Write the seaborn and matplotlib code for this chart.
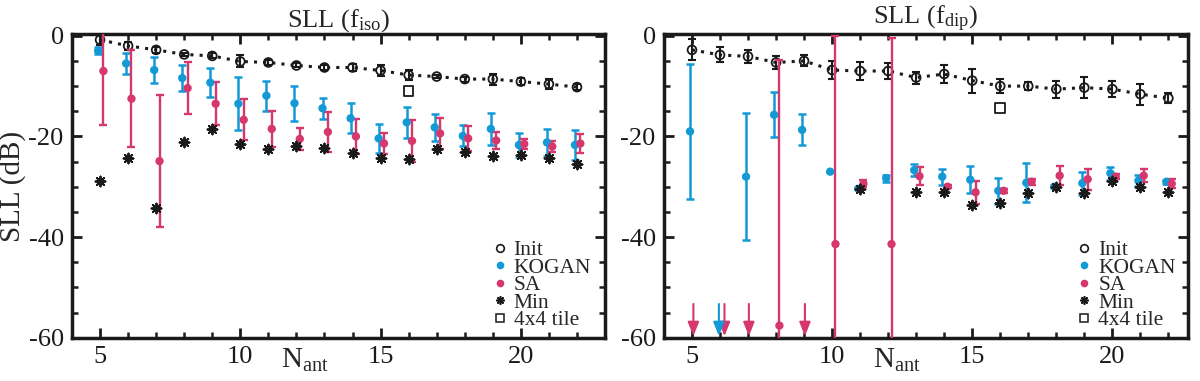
import numpy as np
import matplotlib
matplotlib.use("Agg")
import matplotlib.pyplot as plt
import seaborn as sns
from matplotlib.lines import Line2D
from matplotlib.ticker import MultipleLocator
from matplotlib import transforms

sns.set_theme(style="ticks")
plt.rcParams["font.family"] = ["Liberation Serif", "DejaVu Serif"]
plt.rcParams["mathtext.fontset"] = "custom"
plt.rcParams["mathtext.rm"] = "Liberation Serif"
plt.rcParams["mathtext.it"] = "Liberation Serif:italic"

nan = np.nan
KOGAN_C = "#1399d6"
SA_C = "#d6386d"

n_ant = [5, 6, 7, 8, 9, 10, 11, 12, 13, 14, 15, 16, 17, 18, 19, 20, 21, 22]

# left panel: isotropic element
init_iso = [-0.8, -2.0, -2.8, -3.7, -4.0, -5.1, -5.3, -5.9, -6.3, -6.3, -6.9, -7.8, -8.1, -8.6, -8.6, -9.1, -9.6, -10.2]
init_iso_err = [1.0, 0.8, 0.6, 0.3, 0.5, 1.2, 0.5, 0.4, 0.4, 0.6, 1.1, 1.0, 0.3, 0.5, 1.1, 0.7, 1.0, 0.6]
kogan_iso = [-3.0, -5.5, -6.8, -8.4, -9.3, -13.5, -11.9, -13.4, -14.4, -16.4, -20.4, -17.2, -18.2, -19.9, -18.5, -21.7, -21.2, -21.7]
kogan_iso_err = [0.7, 2.0, 2.5, 2.5, 2.9, 5.3, 3.0, 3.5, 2.1, 3.0, 2.8, 3.1, 2.7, 2.1, 3.2, 2.4, 2.7, 2.9]
sa_iso = [-7.0, -12.5, -24.9, -10.4, -13.5, -16.7, -18.5, -20.5, -19.1, -20.0, -21.4, -20.9, -19.4, -20.4, -20.8, -21.5, -22.0, -21.4]
sa_iso_err = [10.7, 9.7, 13.1, 5.2, 4.3, 4.1, 3.6, 2.1, 4.0, 3.4, 2.1, 4.1, 3.0, 2.5, 1.7, 1.0, 1.1, 1.8]
min_iso = [-28.8, -24.3, -34.2, -21.2, -18.6, -21.5, -22.5, -22.0, -22.3, -23.2, -24.3, -24.5, -22.5, -23.0, -23.8, -23.7, -24.3, -25.5]

# right panel: dipole element
init_dip = [-2.8, -3.8, -4.1, -5.3, -5.0, -6.8, -7.0, -7.0, -8.3, -7.6, -8.9, -10.0, -10.0, -10.6, -10.3, -10.6, -11.6, -12.4]
init_dip_err = [2.1, 1.5, 1.3, 1.2, 1.1, 1.7, 1.7, 1.5, 1.2, 1.8, 2.4, 1.4, 0.8, 1.7, 2.1, 1.6, 2.1, 1.0]
kogan_dip = [-19.0, nan, -28.0, -15.7, -18.7, -27.0, -30.4, -28.3, -26.7, -28.0, -28.6, -30.8, -29.2, -30.0, -29.3, -27.3, -28.8, -29.0]
kogan_dip_err = [13.4, nan, 12.6, 4.5, 3.1, 0.0, 0.0, 0.7, 1.2, 1.6, 2.7, 2.6, 3.9, 0.3, 2.3, 1.3, 1.1, 0.4]
sa_dip = [nan, nan, nan, -57.6, nan, -41.4, -29.4, -41.4, -27.9, -30.0, -31.1, -30.8, -29.0, -27.8, -28.5, -28.0, -27.8, -29.4]
sa_dip_err = [nan, nan, nan, 52.7, nan, 41.4, 0.7, 40.9, 1.8, 0.3, 2.3, 0.4, 0.6, 1.9, 2.1, 0.5, 1.3, 0.9]
min_dip = [nan, nan, nan, nan, nan, nan, -30.5, nan, -31.1, -31.1, -33.6, -33.2, -31.2, -30.1, -31.3, -28.9, -30.0, -31.1]

# values below the plotted range (arrows)
sa_arrow_x = [5.05, 6.16, 7.03, 9.03]
kogan_arrow_x = [5.96]

tile_x = [16]
tile_iso = [-11.0]
tile_dip = [-14.3]

fig = plt.figure(figsize=(12, 3.81), dpi=100)
ax1 = fig.add_axes([0.060, 0.1137, 0.4442, 0.7963])
ax2 = fig.add_axes([0.5533, 0.1137, 0.4367, 0.7963])


def panel(ax, init, init_err, kogan, kogan_err, sa, sa_err, mins, tile, title, xmax,
          sa_arrows=(), kogan_arrows=()):
    x = np.array(n_ant, dtype=float)
    xk = x - 0.07
    xs = x + 0.12

    # Init: dotted line + open circles with error bars
    sns.lineplot(x=x, y=init, color="k", lw=2.2, ax=ax, errorbar=None, sort=False, zorder=2)
    ax.lines[-1].set_linestyle((0, (1, 2.0)))
    ax.errorbar(x, init, yerr=init_err, fmt="none", ecolor="k", elinewidth=1.5,
                capsize=2.6, capthick=1.5, zorder=3)
    sns.scatterplot(x=x, y=init, marker="o", s=40, facecolor="none", edgecolor="k",
                    linewidth=1.3, ax=ax, zorder=4)

    # KOGAN
    ax.errorbar(xk, kogan, yerr=kogan_err, fmt="none", ecolor=KOGAN_C, elinewidth=1.8,
                capsize=3, capthick=1.8, zorder=5)
    sns.scatterplot(x=xk, y=kogan, color=KOGAN_C, s=36, edgecolor="none", ax=ax, zorder=6)

    # SA
    ax.errorbar(xs, sa, yerr=sa_err, fmt="none", ecolor=SA_C, elinewidth=1.7,
                capsize=3, capthick=1.7, zorder=5)
    sns.scatterplot(x=xs, y=sa, color=SA_C, s=36, edgecolor="none", ax=ax, zorder=6)

    # Min
    sns.scatterplot(x=x, y=mins, marker=(8, 2, 0), s=50, color="k", edgecolor="k",
                    linewidth=1.4, ax=ax, zorder=7)

    # 4x4 tile
    sns.scatterplot(x=tile_x, y=tile, marker="s", s=48, facecolor="none", edgecolor="k",
                    linewidth=1.3, ax=ax, zorder=7)

    for xa in sa_arrows:
        ax.annotate("", xy=(xa, -59.7), xytext=(xa, -53.3),
                    arrowprops=dict(arrowstyle="-|>,head_length=0.7,head_width=0.28",
                                    color=SA_C, lw=1.5, shrinkA=0, shrinkB=0), zorder=8)
    for xa in kogan_arrows:
        ax.annotate("", xy=(xa, -59.7), xytext=(xa, -53.3),
                    arrowprops=dict(arrowstyle="-|>,head_length=0.7,head_width=0.28",
                                    color=KOGAN_C, lw=1.5, shrinkA=0, shrinkB=0), zorder=8)

    ax.set_xlim(4, xmax)
    ax.set_ylim(-60, 0.3)
    ax.xaxis.set_major_locator(MultipleLocator(5))
    ax.xaxis.set_minor_locator(MultipleLocator(1))
    ax.yaxis.set_major_locator(MultipleLocator(20))
    ax.yaxis.set_minor_locator(MultipleLocator(5))
    ax.tick_params(which="both", direction="in", top=True, right=True, labelsize=19,
                   colors="k")
    ax.tick_params(which="major", length=7, width=2.0, pad=6)
    ax.tick_params(which="minor", length=4, width=1.8)
    ax.set_yticks([0, -20, -40, -60])
    ax.set_yticklabels(["0", "-20", "-40", "-60"])
    for sp in ax.spines.values():
        sp.set_linewidth(2.5)
        sp.set_color("k")
        sp.set_visible(True)
    ax.set_xlabel("")
    ax.set_ylabel("")
    ax.set_title(title, fontsize=19, pad=4)

    trans = transforms.blended_transform_factory(ax.transData, ax.transAxes)
    ax.text(12.3, -0.03, r"N$_{\mathrm{ant}}$", transform=trans, ha="center", va="top",
            fontsize=21)

    handles = [
        Line2D([], [], marker="o", ls="none", mfc="none", mec="k", ms=5.5, mew=1.2),
        Line2D([], [], marker="o", ls="none", mfc=KOGAN_C, mec="none", ms=5.5),
        Line2D([], [], marker="o", ls="none", mfc=SA_C, mec="none", ms=5.5),
        Line2D([], [], marker=(8, 2, 0), ls="none", color="k", ms=6, mew=1.2),
        Line2D([], [], marker="s", ls="none", mfc="none", mec="k", ms=6, mew=1.1),
    ]
    ax.legend(handles, ["Init", "KOGAN", "SA", "Min", "4x4 tile"], loc="lower left",
              bbox_to_anchor=(0.79, 0.025), frameon=False, fontsize=15.5,
              handlelength=0.6, handletextpad=0.35, labelspacing=-0.12,
              borderpad=0, borderaxespad=0)


panel(ax1, init_iso, init_iso_err, kogan_iso, kogan_iso_err, sa_iso, sa_iso_err, min_iso,
      tile_iso, r"SLL (f$_{\mathrm{iso}}$)", 23)
panel(ax2, init_dip, init_dip_err, kogan_dip, kogan_dip_err, sa_dip, sa_dip_err, min_dip,
      tile_dip, r"SLL (f$_{\mathrm{dip}}$)", 22.7,
      sa_arrows=sa_arrow_x, kogan_arrows=kogan_arrow_x)

ax1.set_ylabel("SLL (dB)", fontsize=21, labelpad=2)

fig.savefig("out.png", dpi=100)
